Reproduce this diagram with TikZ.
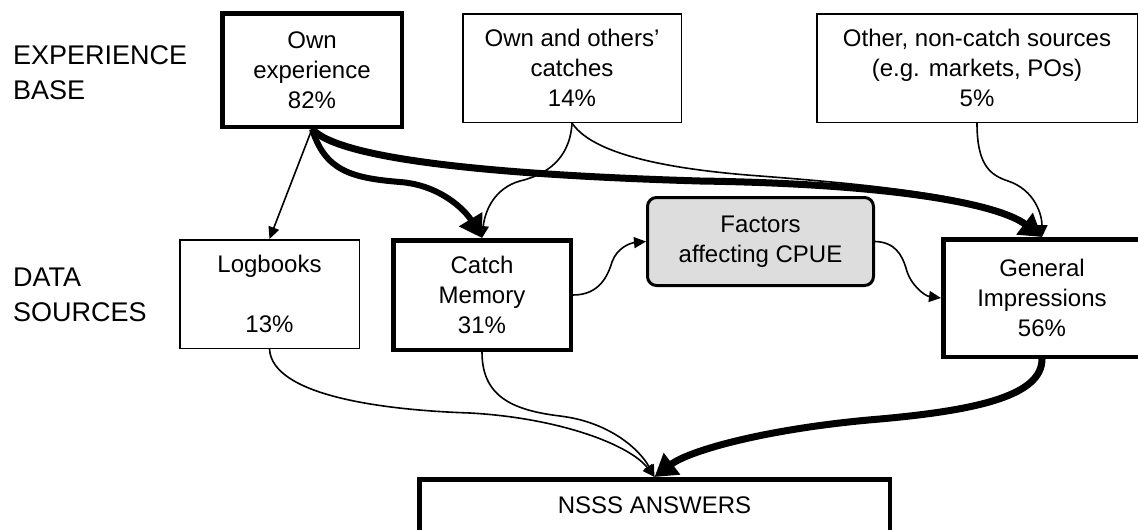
\documentclass[tikz,border=0pt]{standalone}
\usepackage{fontspec}
\setmainfont{Liberation Sans}
\usetikzlibrary{arrows.meta}
\definecolor{facfill}{RGB}{221,221,221}
\begin{document}
\begin{tikzpicture}[x=1pt,y=-1pt,
  box/.style={draw, line width=1.5pt, fill=white, inner sep=0pt, align=center, font=\fontsize{24}{30}\selectfont},
  thickbox/.style={box, line width=4.5pt},
  facbox/.style={box, line width=3pt, rounded corners=9pt, fill=facfill},
  side/.style={inner sep=0pt, align=left, anchor=north west, font=\fontsize{27}{35}\selectfont},
  conn/.style={line width=1.6pt, -{Triangle[length=12pt,width=11pt]}},
  bigconn/.style={line width=#1, -{Triangle[length=22pt,width=26pt]}},
]
\useasboundingbox (0,0) rectangle (1138,530);
\clip (0,0) rectangle (1138,530);

% side labels
\node[side] (eb) at (13,45.7) {EXPERIENCE\\BASE};
\node[side] (ds) at (13,267.7) {DATA\\SOURCES};

% experience base
\node[thickbox, minimum width=179.5pt, minimum height=113.5pt] (oe) at (312,70) {Own\\experience\\82\%};
\node[box, minimum width=218.5pt, minimum height=108.5pt] (oo) at (572,68) {Own and others’\\catches\\14\%};
\node[box, minimum width=320.5pt, minimum height=108.5pt] (ot) at (977,68) {Other, non-catch sources\\(e.g. markets, POs)\\5\%};

% data sources
\node[box, minimum width=179.5pt, minimum height=108.5pt] (lb) at (269.5,294) {Logbooks\\[30pt]13\%};
\node[thickbox, minimum width=177.5pt, minimum height=109.5pt] (cm) at (482,295) {Catch\\Memory\\31\%};
\node[facbox, minimum width=226pt, minimum height=88pt] (fa) at (760.5,241.5) {Factors\\affecting CPUE};
\node[thickbox, minimum width=197.5pt, minimum height=117.5pt] (gi) at (1042,298) {General\\Impressions\\56\%};

% answers
\node[thickbox, anchor=north, minimum width=470.5pt, text height=34pt, text depth=30pt] (ns) at (654.5,477) {NSSS ANSWERS};

% connectors from experience base
\draw[conn] (oe.south) -- (lb.north);
\draw[bigconn=6pt] (oe.south) .. controls (325,170) and (350,178) .. (400,182)
                              .. controls (440,185) and (465,210) .. (cm.north);
\draw[bigconn=7pt] (oe.south) .. controls (340,160) and (500,175) .. (700,181)
                              .. controls (900,184) and (1000,205) .. (gi.north);
\draw[conn] (oo.south) .. controls (570,160) and (545,175) .. (520,181)
                       .. controls (495,188) and (485,210) .. (cm.north);
\draw[conn] (oo.south) .. controls (590,150) and (650,168) .. (760,176)
                       .. controls (890,186) and (1000,198) .. (gi.north);
\draw[conn] (ot.south) .. controls (977,165) and (990,175) .. (1008,181)
                       .. controls (1035,190) and (1042,215) .. (gi.north);

% factors
\draw[conn] (cm.east) .. controls (600,295) and (608,275) .. (612,262)
                      .. controls (617,248) and (630,243) .. (fa.west);
\draw[conn] (fa.east) .. controls (895,242) and (902,255) .. (906,268)
                      .. controls (910,285) and (925,296) .. (gi.west);

% to answers
\draw[conn] (lb.south) .. controls (272,395) and (380,410) .. (470,413)
                       .. controls (560,418) and (630,445) .. (ns.north);
\draw[conn] (cm.south) .. controls (482,395) and (510,410) .. (560,416)
                       .. controls (610,422) and (640,450) .. (ns.north);
\draw[bigconn=7pt] (gi.south) .. controls (1042,395) and (980,410) .. (880,419)
                              .. controls (770,428) and (690,450) .. (ns.north);
\end{tikzpicture}
\end{document}
